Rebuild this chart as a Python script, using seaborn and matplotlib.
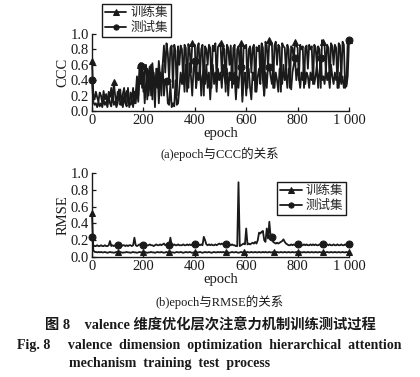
import matplotlib
matplotlib.use('Agg')
import matplotlib.pyplot as plt
import numpy as np
import seaborn as sns

# epochs sampled every 5
epochs = np.arange(0, 1001, 5)
x_ticks = [0, 200, 400, 600, 800, 1000]
x_tick_labels = ['0', '200', '400', '600', '800', '1 000']
y_ticks = [0.0, 0.2, 0.4, 0.6, 0.8, 1.0]
series_names = ['训练集', '测试集']

ccc_train = [
    0.65, 0.22, 0.15, 0.25, 0.18, 0.12, 0.24, 0.2, 0.1, 0.26,
    0.15, 0.22, 0.08, 0.25, 0.18, 0.3, 0.12, 0.38, 0.2, 0.1,
    0.25, 0.15, 0.28, 0.08, 0.22, 0.3, 0.12, 0.26, 0.18, 0.05,
    0.24, 0.15, 0.3, 0.1, 0.22, 0.45, 0.2, 0.6, 0.35, 0.62,
    0.25, 0.55, 0.6, 0.15, 0.5, 0.58, 0.2, 0.62, 0.4, 0.05,
    0.55, 0.3, 0.65, 0.45, 0.2, 0.6, 0.85, 0.5, 0.88, 0.75,
    0.4, 0.82, 0.85, 0.3, 0.86, 0.78, 0.2, 0.84, 0.6, 0.85,
    0.8, 0.35, 0.86, 0.82, 0.25, 0.87, 0.8, 0.5, 0.88, 0.84,
    0.86, 0.3, 0.82, 0.88, 0.45, 0.8, 0.86, 0.2, 0.84, 0.8,
    0.6, 0.86, 0.82, 0.3, 0.85, 0.78, 0.88, 0.4, 0.83, 0.86,
    0.88, 0.5, 0.84, 0.8, 0.25, 0.86, 0.82, 0.6, 0.85, 0.3,
    0.82, 0.86, 0.18, 0.8, 0.84, 0.55, 0.88, 0.2, 0.85, 0.82,
    0.86, 0.3, 0.8, 0.84, 0.5, 0.82, 0.86, 0.25, 0.83, 0.78,
    0.85, 0.4, 0.88, 0.82, 0.2, 0.9, 0.85, 0.55, 0.92, 0.86,
    0.88, 0.3, 0.85, 0.9, 0.6, 0.86, 0.83, 0.25, 0.88, 0.84,
    0.82, 0.5, 0.86, 0.8, 0.3, 0.84, 0.82, 0.65, 0.9, 0.85,
    0.82, 0.4, 0.86, 0.8, 0.84, 0.3, 0.82, 0.85, 0.55, 0.86,
    0.8, 0.84, 0.35, 0.86, 0.82, 0.6, 0.84, 0.8, 0.3, 0.92,
    0.9, 0.85, 0.5, 0.86, 0.82, 0.35, 0.88, 0.84, 0.6, 0.86,
    0.82, 0.3, 0.88, 0.85, 0.4, 0.9, 0.86, 0.3, 0.35, 0.9,
    0.92,
]

ccc_test = [
    0.4, 0.12, 0.08, 0.1, 0.05, 0.12, 0.06, 0.1, 0.05, 0.15,
    0.08, 0.12, 0.05, 0.2, 0.1, 0.06, 0.25, 0.08, 0.12, 0.05,
    0.1, 0.28, 0.08, 0.12, 0.05, 0.2, 0.1, 0.06, 0.3, 0.1,
    0.08, 0.15, 0.05, 0.25, 0.1, 0.3, 0.12, 0.45, 0.58, 0.3,
    0.5, 0.1, 0.35, 0.55, 0.2, 0.4, 0.6, 0.15, 0.5, 0.3,
    0.45, 0.55, 0.1, 0.5, 0.35, 0.6, 0.2, 0.4, 0.39, 0.1,
    0.08, 0.35, 0.05, 0.1, 0.06, 0.4, 0.08, 0.1, 0.3, 0.5,
    0.35, 0.55, 0.25, 0.6, 0.4, 0.3, 0.62, 0.45, 0.2, 0.55,
    0.65, 0.3, 0.5, 0.4, 0.6, 0.2, 0.45, 0.55, 0.35, 0.6,
    0.3, 0.5, 0.15, 0.45, 0.6, 0.35, 0.5, 0.25, 0.55, 0.4,
    0.5, 0.3, 0.6, 0.45, 0.35, 0.55, 0.2, 0.5, 0.4, 0.6,
    0.35, 0.5, 0.15, 0.45, 0.3, 0.55, 0.57, 0.12, 0.4, 0.5,
    0.2, 0.45, 0.55, 0.3, 0.15, 0.5, 0.4, 0.6, 0.25, 0.45,
    0.55, 0.35, 0.85, 0.4, 0.2, 0.5, 0.3, 0.6, 0.57, 0.45,
    0.35, 0.6, 0.3, 0.5, 0.4, 0.25, 0.55, 0.45, 0.35, 0.6,
    0.4, 0.5, 0.3, 0.55, 0.45, 0.28, 0.5, 0.6, 0.69, 0.4,
    0.55, 0.45, 0.3, 0.5, 0.4, 0.6, 0.35, 0.5, 0.45, 0.3,
    0.5, 0.4, 0.55, 0.35, 0.45, 0.6, 0.3, 0.5, 0.69, 0.4,
    0.45, 0.35, 0.55, 0.4, 0.5, 0.3, 0.6, 0.45, 0.35, 0.5,
    0.4, 0.45, 0.3, 0.5, 0.35, 0.45, 0.3, 0.4, 0.32, 0.45,
    0.92,
]

rmse_train = [
    0.52, 0.08, 0.06, 0.06, 0.055, 0.06, 0.055, 0.06, 0.055, 0.055,
    0.06, 0.055, 0.05, 0.055, 0.06, 0.055, 0.055, 0.05, 0.055, 0.06,
    0.055, 0.055, 0.06, 0.055, 0.05, 0.055, 0.055, 0.06, 0.055, 0.055,
    0.05, 0.055, 0.06, 0.055, 0.055, 0.05, 0.055, 0.06, 0.055, 0.055,
    0.055, 0.06, 0.055, 0.05, 0.055, 0.055, 0.06, 0.055, 0.055, 0.05,
    0.055, 0.06, 0.055, 0.055, 0.06, 0.055, 0.05, 0.055, 0.06, 0.055,
    0.055, 0.06, 0.055, 0.055, 0.05, 0.055, 0.06, 0.055, 0.055, 0.06,
    0.055, 0.05, 0.055, 0.06, 0.055, 0.055, 0.06, 0.055, 0.05, 0.055,
    0.055, 0.06, 0.055, 0.055, 0.06, 0.055, 0.05, 0.055, 0.06, 0.055,
    0.055, 0.06, 0.055, 0.05, 0.055, 0.06, 0.055, 0.055, 0.06, 0.055,
    0.06, 0.055, 0.06, 0.055, 0.055, 0.06, 0.055, 0.05, 0.055, 0.06,
    0.055, 0.055, 0.06, 0.055, 0.05, 0.055, 0.06, 0.055, 0.055, 0.06,
    0.055, 0.06, 0.055, 0.055, 0.06, 0.055, 0.055, 0.06, 0.055, 0.055,
    0.06, 0.055, 0.055, 0.06, 0.055, 0.06, 0.055, 0.055, 0.06, 0.055,
    0.055, 0.06, 0.055, 0.055, 0.06, 0.055, 0.055, 0.06, 0.055, 0.055,
    0.06, 0.055, 0.055, 0.06, 0.055, 0.055, 0.06, 0.055, 0.055, 0.06,
    0.055, 0.055, 0.06, 0.055, 0.055, 0.06, 0.055, 0.055, 0.06, 0.055,
    0.055, 0.06, 0.055, 0.055, 0.06, 0.055, 0.055, 0.06, 0.055, 0.055,
    0.06, 0.055, 0.055, 0.06, 0.055, 0.055, 0.06, 0.055, 0.055, 0.06,
    0.055, 0.055, 0.06, 0.055, 0.055, 0.06, 0.055, 0.055, 0.06, 0.055,
    0.055,
]

rmse_test = [
    0.24, 0.14, 0.13, 0.13, 0.14, 0.13, 0.13, 0.14, 0.13, 0.13,
    0.14, 0.13, 0.13, 0.14, 0.19, 0.13, 0.14, 0.13, 0.14, 0.14,
    0.14, 0.13, 0.14, 0.13, 0.14, 0.14, 0.13, 0.14, 0.13, 0.14,
    0.14, 0.13, 0.14, 0.23, 0.14, 0.13, 0.14, 0.15, 0.14, 0.13,
    0.14, 0.14, 0.13, 0.14, 0.14, 0.15, 0.14, 0.14, 0.13, 0.14,
    0.15, 0.14, 0.14, 0.15, 0.14, 0.15, 0.16, 0.14, 0.15, 0.14,
    0.14, 0.23, 0.14, 0.14, 0.15, 0.14, 0.14, 0.15, 0.14, 0.14,
    0.14, 0.15, 0.14, 0.14, 0.15, 0.14, 0.15, 0.14, 0.15, 0.16,
    0.16, 0.15, 0.14, 0.15, 0.14, 0.15, 0.14, 0.24, 0.2, 0.15,
    0.14, 0.15, 0.14, 0.15, 0.14, 0.14, 0.15, 0.14, 0.15, 0.16,
    0.15, 0.16, 0.15, 0.16, 0.16, 0.15, 0.16, 0.15, 0.14, 0.15,
    0.14, 0.14, 0.13, 0.13, 0.89, 0.13, 0.14, 0.15, 0.16, 0.15,
    0.34, 0.15, 0.16, 0.15, 0.16, 0.17, 0.16, 0.18, 0.16, 0.2,
    0.29, 0.28, 0.3, 0.31, 0.2, 0.18, 0.34, 0.22, 0.42, 0.24,
    0.24, 0.18, 0.17, 0.16, 0.17, 0.16, 0.17, 0.18, 0.19, 0.21,
    0.18, 0.16, 0.15, 0.14, 0.14, 0.15, 0.14, 0.15, 0.14, 0.15,
    0.16, 0.14, 0.15, 0.14, 0.14, 0.15, 0.14, 0.15, 0.14, 0.14,
    0.15, 0.14, 0.15, 0.14, 0.15, 0.14, 0.14, 0.15, 0.14, 0.15,
    0.16, 0.15, 0.14, 0.15, 0.14, 0.15, 0.14, 0.14, 0.15, 0.14,
    0.14, 0.15, 0.14, 0.14, 0.15, 0.14, 0.14, 0.15, 0.14, 0.15,
    0.16,
]

sns.set_style('ticks')
plt.rcParams['font.family'] = ['Liberation Serif', 'Noto Sans CJK SC']
plt.rcParams['xtick.direction'] = 'in'
plt.rcParams['ytick.direction'] = 'in'

ink = '#1a1a1a'
fig = plt.figure(figsize=(4.2, 3.77), dpi=100)
ax1 = fig.add_axes([92 / 420, 1 - 111 / 377, 257 / 420, 77 / 377])
ax2 = fig.add_axes([92 / 420, 1 - 257 / 377, 257 / 420, 84 / 377])

line_kw = dict(color=ink, linewidth=1.3, markersize=5, markeredgecolor=ink,
               markerfacecolor=ink, clip_on=False, estimator=None, sort=False)

sns.lineplot(x=epochs, y=ccc_train, ax=ax1, marker='^', label=series_names[0],
             markevery=[0, 17, 37, 78, 100, 116, 138, 158, 180, 200], **line_kw)
sns.lineplot(x=epochs, y=ccc_test, ax=ax1, marker='o', label=series_names[1],
             markevery=[0, 38, 58, 80, 116, 138, 158, 178, 200], **line_kw)

sns.lineplot(x=epochs, y=rmse_train, ax=ax2, marker='^', label=series_names[0],
             markevery=[0, 20, 40, 60, 80, 104, 118, 142, 160, 180, 200], **line_kw)
sns.lineplot(x=epochs, y=rmse_test, ax=ax2, marker='o', label=series_names[1],
             markevery=[0, 20, 40, 60, 80, 104, 140, 160, 180, 200], **line_kw)

for ax, ylab in [(ax1, 'CCC'), (ax2, 'RMSE')]:
    ax.set_xlim(0, 1000)
    ax.set_ylim(0, 1.0)
    ax.set_xticks(x_ticks)
    ax.set_xticklabels(x_tick_labels)
    ax.set_yticks(y_ticks)
    ax.set_yticklabels([f'{v:.1f}' for v in y_ticks])
    ax.tick_params(labelsize=10.5, length=3, width=0.9, pad=2, colors=ink)
    ax.set_xlabel('epoch', fontsize=10.5, labelpad=0, color=ink)
    ax.set_ylabel(ylab, fontsize=10.5, labelpad=1, color=ink)
    for s in ['left', 'bottom']:
        ax.spines[s].set_linewidth(1.0)
        ax.spines[s].set_color(ink)
    sns.despine(ax=ax)

leg_kw = dict(frameon=True, fancybox=False, edgecolor=ink, framealpha=1,
              fontsize=9, handlelength=1.7, handletextpad=0.3, borderpad=0.25,
              labelspacing=0.25, borderaxespad=0, markerscale=0.75,
              bbox_transform=fig.transFigure)
ax1.legend(loc='upper left', bbox_to_anchor=(102 / 420, 1 - 4 / 377), **leg_kw)
ax2.legend(loc='upper right', bbox_to_anchor=(346 / 420, 1 - 182 / 377), **leg_kw)

fig.text(0.524, 1 - 154 / 377, '(a)epoch与CCC的关系', ha='center', va='center', fontsize=9, color=ink)
fig.text(0.524, 1 - 302 / 377, '(b)epoch与RMSE的关系', ha='center', va='center', fontsize=9, color=ink)
fig.text(0.5, 1 - 325 / 377, '图 8    valence 维度优化层次注意力机制训练测试过程',
         ha='center', va='center', fontsize=10.3, fontweight='bold', color=ink)
fig.text(17 / 420, 1 - 345 / 377,
         'Fig. 8     valence  dimension  optimization  hierarchical  attention',
         ha='left', va='center', fontsize=10, fontweight='bold', color=ink)
fig.text(69 / 420, 1 - 363 / 377, 'mechanism  training  test  process',
         ha='left', va='center', fontsize=10, fontweight='bold', color=ink)

fig.savefig('out.png', dpi=100)
